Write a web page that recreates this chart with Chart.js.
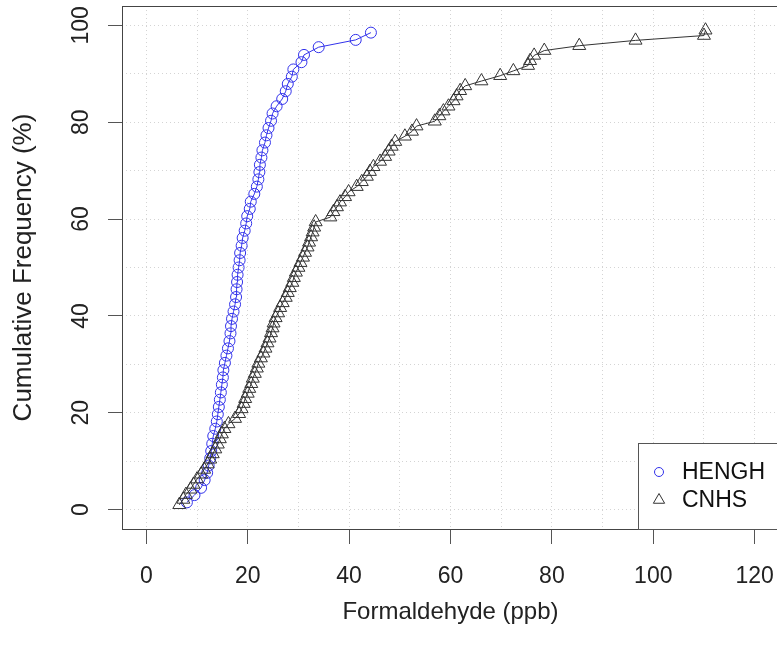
<!DOCTYPE html>
<html>
<head>
<meta charset="utf-8">
<script src="https://cdn.jsdelivr.net/npm/chart.js@4.4.0/dist/chart.umd.min.js"></script>
<style>
html, body { margin: 0; padding: 0; background: #fff; overflow: hidden; }
#wrap { width: 777px; height: 648px; overflow: hidden; }
</style>
</head>
<body>
<div id="wrap"><canvas id="ecdf" width="782" height="648"></canvas></div>
<script>
const seriesNames = ['HENGH', 'CNHS'];

// HENGH (blue circles)
const henghX = [8.0, 9.5, 10.8, 11.5, 12.0, 12.3, 12.6, 12.8, 13.0, 13.2,
    13.6, 13.9, 14.1, 14.3, 14.5, 14.7, 14.9, 15.1, 15.2, 15.5,
    15.8, 16.1, 16.4, 16.6, 16.7, 16.9, 17.2, 17.5, 17.7, 17.8,
    17.9, 18.0, 18.2, 18.4, 18.5, 18.8, 19.0, 19.4, 19.7, 19.9,
    20.4, 20.6, 21.3, 21.8, 22.1, 22.3, 22.4, 22.7, 22.9, 23.4,
    23.7, 24.1, 24.6, 24.9, 25.7, 26.8, 27.5, 27.9, 28.7, 29.0,
    30.6, 31.1, 34.0, 41.3, 44.3];
const henghY = [1.5, 3.0, 4.5, 6.1, 7.6, 9.1, 10.6, 12.1, 13.6, 15.2,
    16.7, 18.2, 19.7, 21.2, 22.7, 24.2, 25.8, 27.3, 28.8, 30.3,
    31.8, 33.3, 34.8, 36.4, 37.9, 39.4, 40.9, 42.4, 43.9, 45.5,
    47.0, 48.5, 50.0, 51.5, 53.0, 54.5, 56.1, 57.6, 59.1, 60.6,
    62.1, 63.6, 65.2, 66.7, 68.2, 69.7, 71.2, 72.7, 74.2, 75.8,
    77.3, 78.8, 80.3, 81.8, 83.3, 84.8, 86.4, 87.9, 89.4, 90.9,
    92.4, 93.9, 95.5, 97.0, 98.5];

// CNHS (black triangles)
const cnhsX = [6.5, 7.3, 7.8, 8.7, 9.3, 10.0, 10.8, 11.4, 12.1, 12.6,
    13.1, 13.6, 14.1, 14.5, 14.9, 15.4, 16.2, 17.5, 18.3, 18.8,
    19.2, 19.5, 20.0, 20.3, 20.7, 21.0, 21.4, 21.8, 22.1, 22.6,
    23.1, 23.5, 23.9, 24.3, 24.6, 24.9, 25.1, 25.5, 26.0, 26.4,
    26.9, 27.5, 27.9, 28.3, 28.8, 29.1, 29.5, 30.0, 30.4, 30.9,
    31.3, 31.8, 32.1, 32.5, 32.8, 33.1, 33.4, 36.3, 36.9, 37.6,
    38.2, 39.2, 39.9, 41.5, 42.5, 43.5, 44.1, 44.8, 46.1, 47.1,
    47.8, 48.4, 49.1, 51.0, 52.4, 53.3, 56.9, 57.8, 58.6, 59.6,
    60.6, 61.2, 61.9, 62.9, 66.1, 69.8, 72.4, 75.3, 75.7, 76.5,
    78.5, 85.4, 96.5, 110.0, 110.3];
const cnhsY = [1.0, 2.1, 3.1, 4.2, 5.2, 6.3, 7.3, 8.3, 9.4, 10.4,
    11.5, 12.5, 13.5, 14.6, 15.6, 16.7, 17.7, 18.8, 19.8, 20.8,
    21.9, 22.9, 24.0, 25.0, 26.0, 27.1, 28.1, 29.2, 30.2, 31.3,
    32.3, 33.3, 34.4, 35.4, 36.5, 37.5, 38.5, 39.6, 40.6, 41.7,
    42.7, 43.8, 44.8, 45.8, 46.9, 47.9, 49.0, 50.0, 51.0, 52.1,
    53.1, 54.2, 55.2, 56.3, 57.3, 58.3, 59.4, 60.4, 61.5, 62.5,
    63.5, 64.6, 65.6, 66.7, 67.7, 68.8, 69.8, 70.8, 71.9, 72.9,
    74.0, 75.0, 76.0, 77.1, 78.1, 79.2, 80.2, 81.3, 82.3, 83.3,
    84.4, 85.4, 86.5, 87.5, 88.5, 89.6, 90.6, 91.7, 92.7, 93.8,
    94.8, 95.8, 96.9, 97.9, 99.0];

// grid every 10, labelled ticks every 20
const xGrid = [0, 10, 20, 30, 40, 50, 60, 70, 80, 90, 100, 110, 120];
const yGrid = [0, 10, 20, 30, 40, 50, 60, 70, 80, 90, 100];
const yLabels = [0, 20, 40, 60, 80, 100];

const FONT = "'Liberation Sans', Arial, Helvetica, sans-serif";
const BLUE = 'rgb(50, 50, 235)';
const DARK = '#333';
const tickCol = c => (c.tick && c.tick.value % 20 === 0) ? '#555' : 'rgba(0,0,0,0)';

// no extra label padding, the plot region is fixed like in R
function noPad(s) {
    s.paddingLeft = 0;
    s.paddingRight = 0;
    s.paddingTop = 0;
    s.paddingBottom = 0;
}

// R-like extras: rotated y labels, plot box, legend in the corner
const rFrame = {
    id: 'rFrame',
    afterDraw(chart) {
        const { ctx, chartArea: a, scales: { y } } = chart;
        ctx.save();
        ctx.font = '23px ' + FONT;
        ctx.fillStyle = '#222';
        ctx.textAlign = 'center';
        ctx.textBaseline = 'alphabetic';
        yLabels.forEach(v => {
            ctx.save();
            ctx.translate(a.left - 34, y.getPixelForValue(v));
            ctx.rotate(-Math.PI / 2);
            ctx.fillText(String(v), 0, 0);
            ctx.restore();
        });

        ctx.setLineDash([]);
        ctx.lineWidth = 1;
        ctx.strokeStyle = '#444';
        ctx.strokeRect(a.left + 0.5, a.top + 0.5, a.right - a.left, a.bottom - a.top);

        // legend
        const bx = a.right - 141, by = a.bottom - 86;
        ctx.fillStyle = '#fff';
        ctx.fillRect(bx, by, 141, 86);
        ctx.strokeStyle = '#555';
        ctx.strokeRect(bx + 0.5, by + 0.5, 141, 86);
        chart.data.datasets.forEach((ds, i) => {
            const cy = by + 29 + i * 28, cx = bx + 21;
            ctx.strokeStyle = ds.pointBorderColor;
            ctx.lineWidth = 1;
            ctx.beginPath();
            if (ds.pointStyle === 'triangle') {
                const r = 6.5;
                ctx.moveTo(cx, cy - r);
                ctx.lineTo(cx + r * 0.866, cy + r * 0.5);
                ctx.lineTo(cx - r * 0.866, cy + r * 0.5);
                ctx.closePath();
            } else {
                ctx.arc(cx, cy, 4.5, 0, Math.PI * 2);
            }
            ctx.stroke();
            ctx.fillStyle = '#111';
            ctx.textAlign = 'left';
            ctx.textBaseline = 'middle';
            ctx.fillText(ds.label, bx + 44, cy + 1);
        });
        ctx.restore();
    }
};

new Chart(document.getElementById('ecdf'), {
    type: 'scatter',
    data: {
        datasets: [{
            label: seriesNames[0],
            data: henghX.map((x, i) => ({ x: x, y: henghY[i] })),
            showLine: true,
            borderColor: BLUE,
            borderWidth: 1,
            pointStyle: 'circle',
            pointRadius: 5.5,
            pointBorderWidth: 1,
            pointBorderColor: BLUE,
            pointBackgroundColor: 'rgba(0,0,0,0)',
            order: 2
        }, {
            label: seriesNames[1],
            data: cnhsX.map((x, i) => ({ x: x, y: cnhsY[i] })),
            showLine: true,
            borderColor: DARK,
            borderWidth: 1,
            pointStyle: 'triangle',
            pointRadius: 7.5,
            pointBorderWidth: 1,
            pointBorderColor: DARK,
            pointBackgroundColor: 'rgba(0,0,0,0)',
            order: 1
        }]
    },
    options: {
        responsive: false,
        animation: false,
        events: [],
        layout: { autoPadding: false, padding: { left: 0, right: 3, top: 6, bottom: 0 } },
        plugins: {
            legend: { display: false },
            tooltip: { enabled: false }
        },
        scales: {
            x: {
                type: 'linear',
                min: -4.8,
                max: 124.8,
                afterBuildTicks: s => { s.ticks = xGrid.map(v => ({ value: v })); },
                afterFit: s => { s.height = 119; noPad(s); },
                grid: { color: '#d4d4d4', lineWidth: 1, tickLength: 15, tickColor: tickCol, tickWidth: 1 },
                border: { display: false, dash: [1, 3] },
                ticks: {
                    font: { size: 23, family: FONT },
                    color: '#222',
                    padding: 19,
                    autoSkip: false,
                    maxRotation: 0,
                    callback: v => (v % 20 === 0 ? String(v) : '')
                },
                title: {
                    display: true,
                    text: 'Formaldehyde (ppb)',
                    font: { size: 24, family: FONT },
                    color: '#222',
                    padding: { top: 0, bottom: 21 }
                }
            },
            y: {
                type: 'linear',
                min: -4,
                max: 104,
                afterBuildTicks: s => { s.ticks = yGrid.map(v => ({ value: v })); },
                afterFit: s => { s.width = 122; noPad(s); },
                grid: { color: '#d4d4d4', lineWidth: 1, tickLength: 14, tickColor: tickCol, tickWidth: 1 },
                border: { display: false, dash: [1, 3] },
                ticks: { display: false },
                title: {
                    display: true,
                    text: 'Cumulative Frequency (%)',
                    font: { size: 26, family: FONT },
                    color: '#222',
                    padding: { top: 8, bottom: 0 }
                }
            }
        }
    },
    plugins: [rFrame]
});
</script>
</body>
</html>
